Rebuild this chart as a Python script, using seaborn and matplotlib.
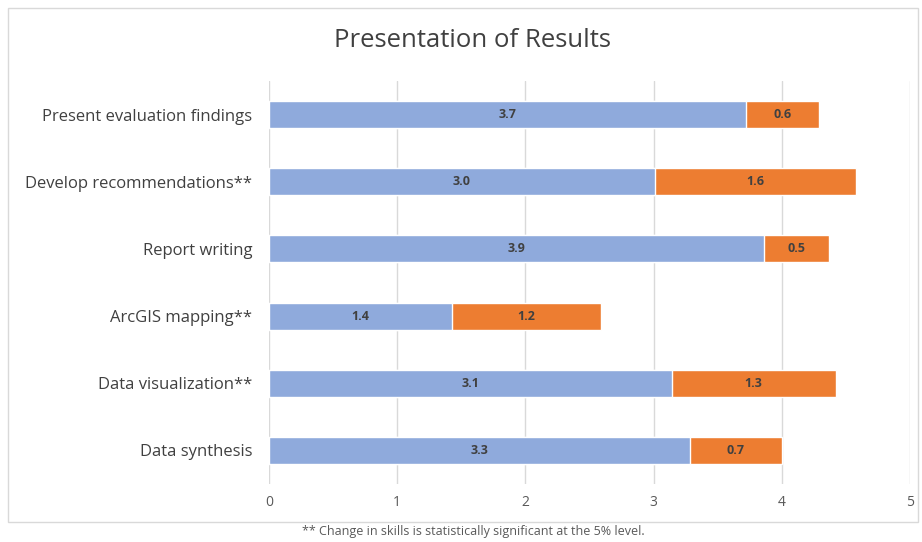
import matplotlib
matplotlib.use("Agg")
import matplotlib.pyplot as plt
import matplotlib.patches as patches
import seaborn as sns
import pandas as pd

skills = ["Present evaluation findings", "Develop recommendations**", "Report writing",
          "ArcGIS mapping**", "Data visualization**", "Data synthesis"]
before = [3.72, 3.01, 3.86, 1.43, 3.14, 3.28]
change = [0.57, 1.57, 0.51, 1.16, 1.28, 0.72]
x_ticks = [0, 1, 2, 3, 4, 5]

blue = "#8FAADC"
orange = "#ED7D31"

df = pd.DataFrame({"skill": skills, "before": before, "change": change})
df["total"] = df["before"] + df["change"]

sns.set_style("white")
plt.rcParams["font.family"] = ["Open Sans", "DejaVu Sans"]

fig = plt.figure(figsize=(9.22, 5.42), dpi=100)
ax = fig.add_axes([0.2918, 0.107, 0.6952, 0.7436])

# orange drawn as the full total, blue on top of it
sns.barplot(data=df, x="total", y="skill", color=orange, width=0.4, saturation=1, ax=ax, zorder=3)
sns.barplot(data=df, x="before", y="skill", color=blue, width=0.4, saturation=1, ax=ax, zorder=3)

for i, row in df.iterrows():
    ax.text(row["before"] / 2, i, f"{row['before']:.1f}", ha="center", va="center",
            fontsize=9, fontweight="bold", color="#404040", zorder=4)
    ax.text(row["before"] + row["change"] / 2, i, f"{row['change']:.1f}", ha="center", va="center",
            fontsize=9, fontweight="bold", color="#404040", zorder=4)

ax.set_xlim(0, 5)
ax.set_xticks(x_ticks)
ax.set_ylim(5.5, -0.5)
ax.grid(axis="x", color="#D9D9D9", linewidth=1, zorder=0)
ax.set_axisbelow(True)
for s in ax.spines.values():
    s.set_visible(False)
ax.set_xlabel("")
ax.set_ylabel("")
ax.tick_params(axis="x", colors="#595959", labelsize=10, length=0, pad=8)
ax.tick_params(axis="y", colors="#404040", labelsize=12, length=0, pad=12)

fig.text(0.512, 0.925, "Presentation of Results", ha="center", va="center",
         fontsize=18.5, color="#404040")
fig.text(0.513, 0.02, "** Change in skills is statistically significant at the 5% level.",
         ha="center", va="center", fontsize=9, color="#595959")

fig.patches.append(patches.Rectangle((8 / 922, 1 - 522 / 542), 910 / 922, 514 / 542,
                                     transform=fig.transFigure, fill=False,
                                     edgecolor="#D9D9D9", linewidth=1))

fig.savefig("out.png", dpi=100)
